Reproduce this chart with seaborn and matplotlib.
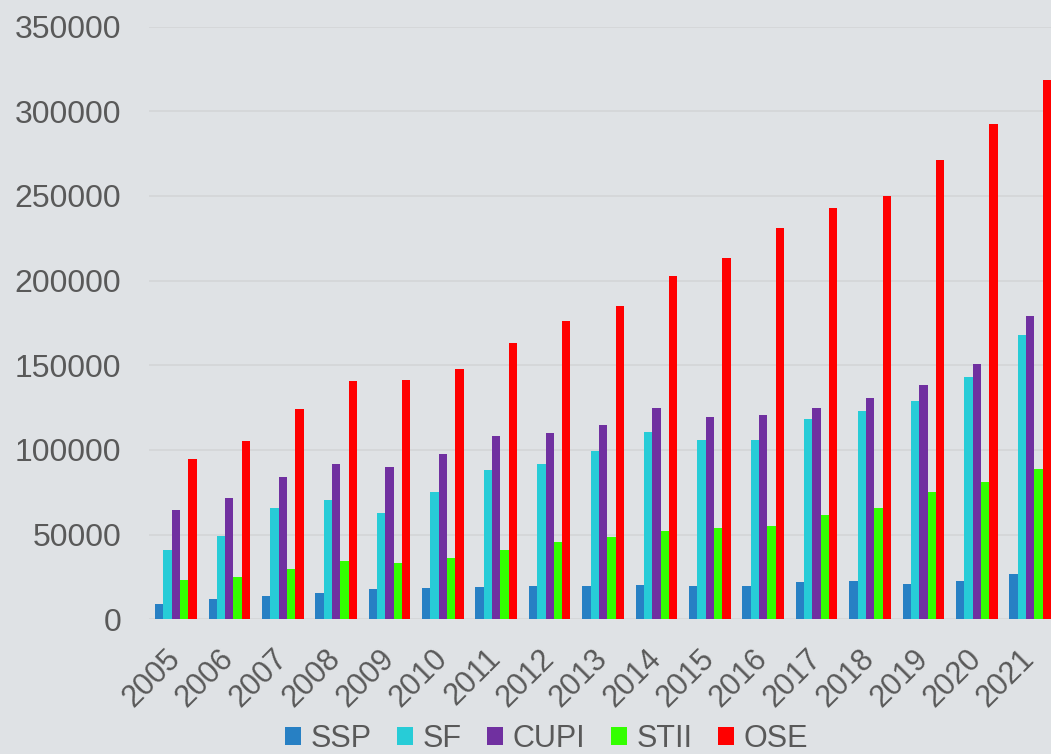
import pandas as pd
import matplotlib
matplotlib.use("Agg")
import matplotlib.pyplot as plt
import seaborn as sns

# values
years = [str(y) for y in range(2005, 2022)]
ssp = [9000, 12000, 13700, 15700, 17800, 18400, 19000, 19400, 19400,
       20200, 19600, 19600, 22000, 22400, 20800, 22400, 26700]
sf = [40800, 49000, 65500, 70300, 62800, 75000, 88300, 91500, 99500,
      110900, 105600, 105600, 118100, 123300, 129100, 142900, 167800]
cupi = [64400, 71400, 84200, 91900, 90100, 97800, 108400, 110100, 115000,
        124900, 119500, 120700, 124900, 130700, 138600, 150800, 179000]
stii = [23000, 25100, 29800, 34500, 33300, 36100, 41200, 45500, 48600,
        52200, 53800, 54900, 61600, 66000, 75400, 80900, 88700]
ose = [94800, 105400, 124000, 140900, 141500, 148000, 163000, 176100, 184900,
       202900, 213200, 231200, 243000, 250100, 271300, 292500, 318800]

series_names = ["SSP", "SF", "CUPI", "STII", "OSE"]
series_colors = ["#2780C4", "#27CCD7", "#7030A0", "#33FF00", "#FF0000"]
y_ticks = [0, 50000, 100000, 150000, 200000, 250000, 300000, 350000]

bg = "#DFE2E5"
text_color = "#595959"

df = pd.DataFrame({"year": years, "SSP": ssp, "SF": sf, "CUPI": cupi,
                   "STII": stii, "OSE": ose})
long_df = df.melt(id_vars="year", var_name="series", value_name="value")

sns.set_style("white")
plt.rcParams["font.family"] = ["Liberation Sans", "DejaVu Sans"]

fig = plt.figure(figsize=(10.51, 7.54), dpi=100, facecolor=bg)
ax = fig.add_axes([0.142, 0.1787, 0.858, 0.7859])
ax.set_facecolor(bg)

sns.barplot(data=long_df, x="year", y="value", hue="series",
            hue_order=series_names, palette=series_colors,
            saturation=1, width=0.78, linewidth=0, ax=ax)

ax.set_xlim(-0.5, 16.39)
ax.set_ylim(0, 350000)
ax.set_yticks(y_ticks)
ax.set_yticklabels([str(v) for v in y_ticks])
ax.set_xlabel("")
ax.set_ylabel("")

ax.grid(axis="y", color="#D4D6D8", linewidth=1.3)
ax.set_axisbelow(True)
for s in ax.spines.values():
    s.set_visible(False)

ax.tick_params(axis="y", length=0, pad=20, labelsize=23, labelcolor=text_color)
ax.tick_params(axis="x", length=0, pad=25, labelsize=22, labelcolor=text_color)
for lbl in ax.get_xticklabels():
    lbl.set_rotation(45)
    lbl.set_ha("right")
    lbl.set_va("center")
    lbl.set_rotation_mode("anchor")

handles, labels = ax.get_legend_handles_labels()
ax.get_legend().remove()
leg = fig.legend(handles, labels, loc="center", bbox_to_anchor=(0.52, 0.02),
                 ncol=5, frameon=False, fontsize=22, handlelength=0.52,
                 handleheight=0.52, handletextpad=0.3, columnspacing=0.85,
                 borderaxespad=0, borderpad=0)
for t in leg.get_texts():
    t.set_color(text_color)

fig.savefig("out.png", dpi=100, facecolor=bg)
